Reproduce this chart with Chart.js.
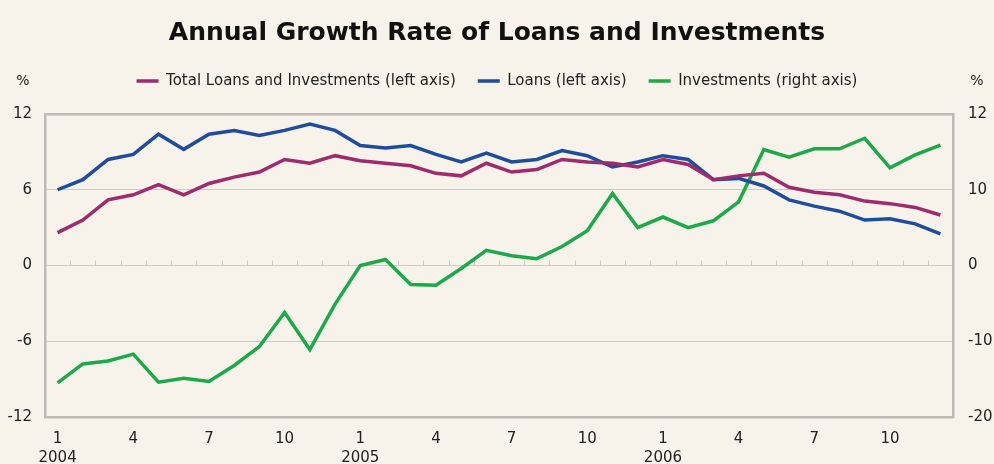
<!DOCTYPE html>
<html>
<head>
<meta charset="utf-8">
<script src="https://cdn.jsdelivr.net/npm/chart.js@4"></script>
<style>
  html, body { margin: 0; padding: 0; background: #f7f3ea; }
  #wrap { width: 994px; height: 464px; }
</style>
</head>
<body>
<div id="wrap"><canvas id="chart" width="994" height="464"></canvas></div>
<script>
'use strict';

// monthly data, Jan 2004 - Dec 2006
const months = [1,2,3,4,5,6,7,8,9,10,11,12, 1,2,3,4,5,6,7,8,9,10,11,12, 1,2,3,4,5,6,7,8,9,10,11,12];
const years = [2004,2004,2004,2004,2004,2004,2004,2004,2004,2004,2004,2004,
               2005,2005,2005,2005,2005,2005,2005,2005,2005,2005,2005,2005,
               2006,2006,2006,2006,2006,2006,2006,2006,2006,2006,2006,2006];

const totalLoansInv = [2.6, 3.6, 5.2, 5.6, 6.4, 5.6, 6.5, 7.0, 7.4, 8.4, 8.1, 8.7,
                       8.3, 8.1, 7.9, 7.3, 7.1, 8.1, 7.4, 7.6, 8.4, 8.2, 8.1, 7.8,
                       8.4, 8.0, 6.8, 7.1, 7.3, 6.2, 5.8, 5.6, 5.1, 4.9, 4.6, 4.0];
const loans = [6.0, 6.8, 8.4, 8.8, 10.4, 9.2, 10.4, 10.7, 10.3, 10.7, 11.2, 10.7,
               9.5, 9.3, 9.5, 8.8, 8.2, 8.9, 8.2, 8.4, 9.1, 8.7, 7.8, 8.2,
               8.7, 8.4, 6.8, 6.9, 6.3, 5.2, 4.7, 4.3, 3.6, 3.7, 3.3, 2.5];
const investments = [-15.5, -13.0, -12.6, -11.7, -15.4, -14.9, -15.3, -13.2, -10.7, -6.2, -11.1, -5.1,
                     0.0, 0.8, -2.5, -2.6, -0.4, 2.0, 1.3, 0.9, 2.5, 4.6, 9.5, 5.0,
                     6.4, 5.0, 5.9, 8.4, 15.3, 14.3, 15.4, 15.4, 16.8, 12.9, 14.6, 15.9];

const leftTicks = [-12, -6, 0, 6, 12];
const rightTicks = [-20, -10, 0, 10, 20];
const rightTickText = { '-20': '-20', '-10': '-10', '0': '0', '10': '10', '20': '12' };

const FONT = '"DejaVu Sans", sans-serif';
const gridColor = '#cfcbc3';
const frameColor = '#bdbab3';

// small ticks on the zero line, between months
const zeroTicks = {
  id: 'zeroTicks',
  beforeDatasetsDraw(chart) {
    const x = chart.scales.x, y = chart.scales.y;
    const y0 = y.getPixelForValue(0);
    const ctx = chart.ctx;
    ctx.save();
    ctx.strokeStyle = gridColor;
    ctx.lineWidth = 1;
    ctx.beginPath();
    for (let i = 1; i < months.length; i++) {
      const px = Math.round((x.getPixelForValue(i - 1) + x.getPixelForValue(i)) / 2) + 0.5;
      ctx.moveTo(px, y0);
      ctx.lineTo(px, y0 - 5);
    }
    ctx.stroke();
    ctx.restore();
  }
};

// "%" unit labels above both axes
const unitLabels = {
  id: 'unitLabels',
  afterDraw(chart) {
    const ctx = chart.ctx;
    const y = chart.legend.top + chart.legend.options.labels.padding + 7.5;
    ctx.save();
    ctx.font = '14px ' + FONT;
    ctx.fillStyle = '#222';
    ctx.textBaseline = 'middle';
    ctx.textAlign = 'center';
    ctx.fillText('%', 23, y);
    ctx.fillText('%', 977, y);
    ctx.restore();
  }
};

// extra room under the legend
const legendSpacer = {
  id: 'legendSpacer',
  beforeInit(chart) {
    const fit = chart.legend.fit;
    chart.legend.fit = function () {
      fit.call(this);
      this.height += 15.5;
    };
  }
};

new Chart(document.getElementById('chart'), {
  type: 'line',
  data: {
    labels: months.map((m, i) => m === 1 ? [String(m), String(years[i])] : String(m)),
    datasets: [
      { label: 'Total Loans and Investments (left axis)', data: totalLoansInv, yAxisID: 'y', borderColor: '#a02a6e', backgroundColor: '#a02a6e', borderWidth: 3.5, pointRadius: 0, tension: 0 },
      { label: 'Loans (left axis)', data: loans, yAxisID: 'y', borderColor: '#204d9b', backgroundColor: '#204d9b', borderWidth: 3.5, pointRadius: 0, tension: 0 },
      { label: 'Investments (right axis)', data: investments, yAxisID: 'y1', borderColor: '#1fa84a', backgroundColor: '#1fa84a', borderWidth: 3.5, pointRadius: 0, tension: 0 }
    ]
  },
  options: {
    responsive: false,
    animation: false,
    layout: { padding: { left: 0, right: 0, top: 0, bottom: 0 } },
    plugins: {
      title: {
        display: true,
        text: 'Annual Growth Rate of Loans and Investments',
        color: '#111',
        font: { family: FONT, size: 25, weight: 'bold' },
        padding: { top: 18, bottom: 3.5 }
      },
      legend: {
        display: true,
        labels: {
          usePointStyle: true,
          pointStyle: 'line',
          pointStyleWidth: 22,
          padding: 22,
          color: '#222',
          font: { family: FONT, size: 15 }
        }
      },
      tooltip: { enabled: false }
    },
    scales: {
      x: {
        type: 'category',
        offset: true,
        grid: { display: false, drawTicks: false },
        border: { display: false },
        afterFit(scale) { scale.height = 47; },
        ticks: {
          autoSkip: false,
          maxRotation: 0,
          padding: 12,
          color: '#222',
          font: { family: FONT, size: 15, lineHeight: 1.3 },
          callback(v, i) {
            if ((months[i] - 1) % 3 !== 0) return '';
            return months[i] === 1 ? [String(months[i]), String(years[i])] : String(months[i]);
          }
        }
      },
      y: {
        position: 'left',
        min: -12, max: 12,
        afterFit(scale) { scale.width = 45; },
        afterBuildTicks(scale) { scale.ticks = leftTicks.map(v => ({ value: v })); },
        grid: {
          drawTicks: false,
          color: ctx => (ctx.tick && Math.abs(ctx.tick.value) === 12) ? frameColor : gridColor,
          lineWidth: ctx => (ctx.tick && Math.abs(ctx.tick.value) === 12) ? 2.5 : 1
        },
        border: { display: true, color: frameColor, width: 2.5 },
        ticks: { padding: 13, color: '#222', font: { family: FONT, size: 15 } }
      },
      y1: {
        position: 'right',
        min: -20, max: 20,
        afterFit(scale) { scale.width = 41; },
        afterBuildTicks(scale) { scale.ticks = rightTicks.map(v => ({ value: v })); },
        grid: { drawOnChartArea: false, drawTicks: false },
        border: { display: true, color: frameColor, width: 2.5 },
        ticks: {
          padding: 15,
          color: '#222',
          font: { family: FONT, size: 15 },
          callback: v => rightTickText[String(v)]
        }
      }
    }
  },
  plugins: [legendSpacer, zeroTicks, unitLabels]
});
</script>
</body>
</html>
